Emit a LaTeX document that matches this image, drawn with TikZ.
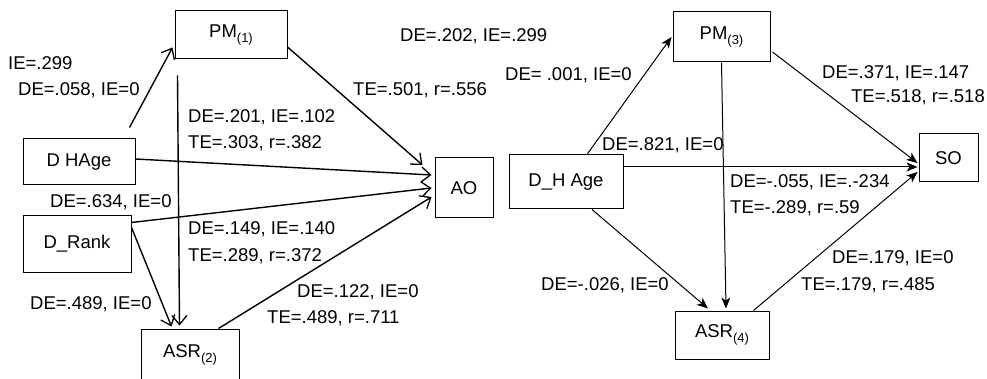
\documentclass[tikz,border=0pt]{standalone}
\usepackage{fontspec}
\setmainfont{Liberation Sans}
\usetikzlibrary{arrows.meta,calc}
\newcommand{\subx}[1]{\raisebox{-5pt}{\fontsize{13}{13}\selectfont(#1)}}
\tikzset{
  box/.style={draw=black, line width=1pt, inner sep=0pt, align=center},
  lab/.style={anchor=west, inner sep=0pt},
  openarr/.style={line width=1.4pt, -{Straight Barb[length=9pt,width=15pt,line width=1.3pt]}},
  filledarr/.style={line width=1pt, -{Stealth[length=11pt,width=9pt,inset=3pt]}},
  plainline/.style={line width=1.4pt}
}
\begin{document}
\begin{tikzpicture}[x=1pt,y=-1pt,font=\fontsize{18.5}{22}\selectfont]
\useasboundingbox[fill=white] (0,0) rectangle (987,379);
% ---------- left diagram ----------
\node[box, minimum width=112pt, minimum height=48pt] (pm1) at (231,35) {PM\subx{1}};
\node[box, minimum width=112pt, minimum height=46pt] (hage) at (79,162) {D HAge};
\node[box, minimum width=108pt, minimum height=56pt] (rank) at (77,244) {D\_Rank};
\node[box, minimum width=98pt, minimum height=52pt] (asr2) at (190,355) {ASR\subx{2}};
\node[box, minimum width=58pt, minimum height=60pt] (ao) at (464,188) {AO};

\draw[openarr] ($(hage.north east)+(-6,-11)$) -- ($(pm1.south west)+(-2,-12)$);
\draw[openarr] ($(pm1.east)+(0,12)$) -- ($(ao.west)+(-12,-23)$);
\draw[openarr] ($(hage.east)+(0,-3)$) -- ($(ao.west)+(-3,-13)$);
\draw[openarr] ($(rank.north east)+(0,7)$) -- ($(ao.west)+(-3,0)$);
\draw[openarr] ($(asr2.north east)+(-21,0)$) -- ($(ao.west)+(-3,9)$);
\draw[openarr] ($(pm1.south west)+(3,16)$) -- ($(asr2.north west)+(39,-3)$);
\draw[openarr] ($(rank.north east)+(0,12)$) -- ($(asr2.north west)+(31,-2)$);

\node[lab] (l1) at (8,63) {IE=.299};
\node[lab] (l2) at (18,90) {DE=.058, IE=0};
\node[lab] (l3) at (188,117) {DE=.201, IE=.102};
\node[lab] (l4) at (188,143) {TE=.303, r=.382};
\node[lab] (l5) at (50,202) {DE=.634, IE=0};
\node[lab] (l6) at (188,229) {DE=.149, IE=.140};
\node[lab] (l7) at (188,256) {TE=.289, r=.372};
\node[lab] (l8) at (30,304) {DE=.489, IE=0};
\node[lab] (l9) at (297,292) {DE=.122, IE=0};
\node[lab] (l10) at (267,318) {TE=.489, r=.711};
\node[lab] (l11) at (353,90) {TE=.501, r=.556};
\node[lab] (l12) at (400,36) {DE=.202, IE=.299};

% ---------- right diagram ----------
\node[box, minimum width=97pt, minimum height=50pt] (pm3) at (721.5,37) {PM\subx{3}};
\node[box, minimum width=59pt, minimum height=48pt] (so) at (948.5,158) {SO};
\node[box, minimum width=114pt, minimum height=54pt] (dha) at (566,182) {D\_H Age};
\node[box, minimum width=94pt, minimum height=48pt] (asr4) at (722,335) {ASR\subx{4}};

\draw[filledarr] ($(dha.north)+(21,0)$) -- ($(pm3.west)+(-1,0)$);
\draw[filledarr] ($(pm3.east)+(2,15)$) -- ($(so.west)+(-1,5)$);
\draw[filledarr] ($(dha.east)+(0,-15)$) -- ($(so.west)+(-1,9)$);
\draw[filledarr] ($(asr4.north east)+(-16,0)$) -- ($(so.west)+(-1,14)$);
\draw[filledarr] (pm3.south) -- ($(asr4.north)+(4,-2)$);
\draw[filledarr] ($(dha.south)+(26,0)$) -- ($(asr4.north)+(-14,-2)$);

\node[lab] (r1) at (505,75) {DE= .001, IE=0};
\node[lab] (r2) at (602,145) {DE=.821, IE=0};
\node[lab] (r3) at (822,73) {DE=.371, IE=.147};
\node[lab, anchor=east] (r4) at (985,97) {TE=.518, r=.518};
\node[lab] (r5) at (730,182) {DE=-.055, IE=.-234};
\node[lab] (r6) at (730,208) {TE=-.289, r=.59};
\node[lab] (r7) at (541,285) {DE=-.026, IE=0};
\node[lab] (r8) at (832,258) {DE=.179, IE=0};
\node[lab] (r9) at (801,285) {TE=.179, r=.485};
\end{tikzpicture}
\end{document}
